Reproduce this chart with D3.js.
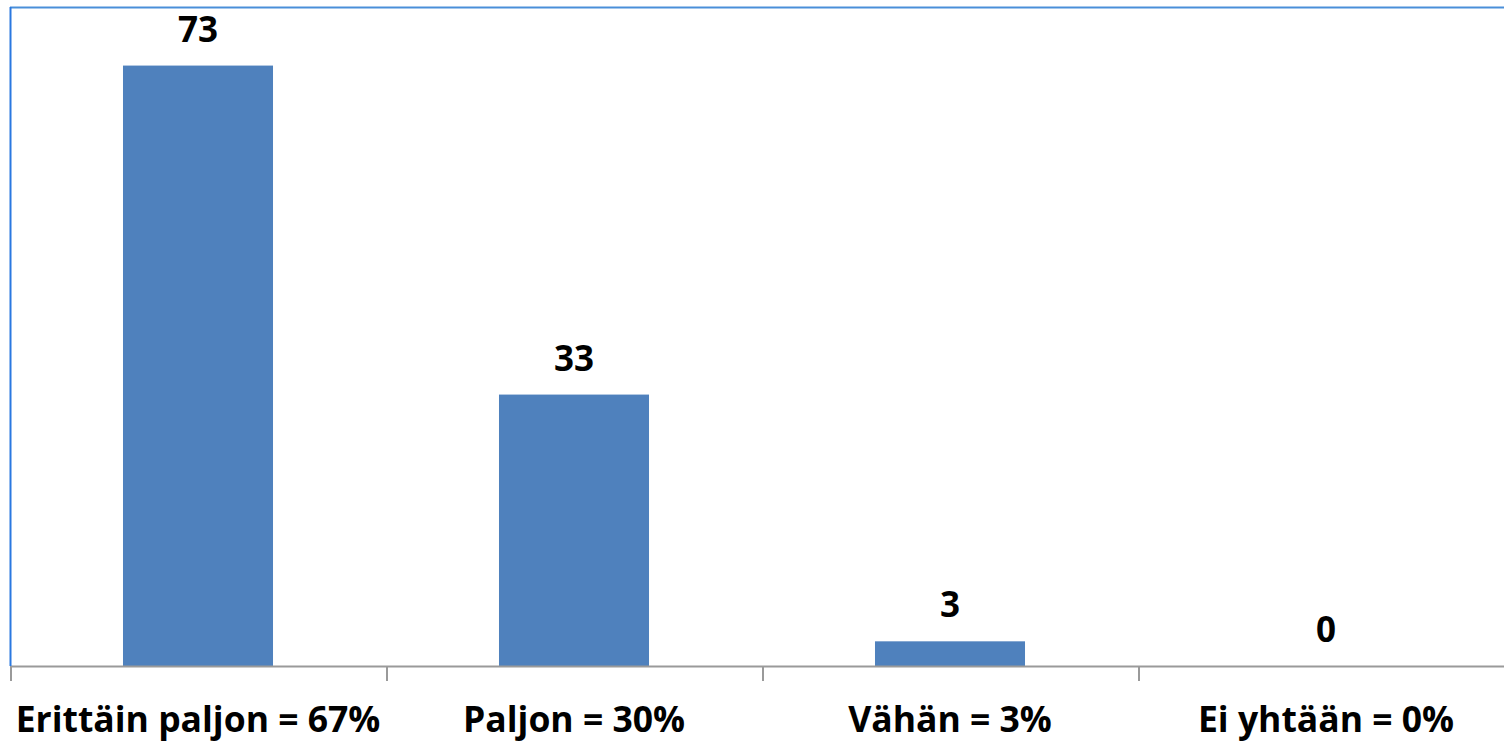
<!DOCTYPE html>
<html>
<head>
<meta charset="utf-8">
<script src="https://cdn.jsdelivr.net/npm/d3@7"></script>
<style>
  html, body { margin: 0; padding: 0; background: #fff; }
  svg { display: block; }
  text { font-family: "Open Sans", Lato, sans-serif; font-weight: bold; fill: #000; }
</style>
</head>
<body>
<svg id="chart"></svg>
<script>
// categories and values
const categories = ["Erittäin paljon = 67%", "Paljon = 30%", "Vähän = 3%", "Ei yhtään = 0%"];
const values = [73, 33, 3, 0];
const yDomain = [0, 80];

const width = 1504, height = 742;
const margin = {top: 8, right: -10, bottom: 76, left: 10};
const innerW = width - margin.left - margin.right;
const innerH = height - margin.top - margin.bottom;

const svg = d3.select("#chart")
  .attr("width", width)
  .attr("height", height);

const g = svg.append("g")
  .attr("transform", "translate(" + margin.left + "," + margin.top + ")");

// scales
const x = d3.scaleBand()
  .domain(categories)
  .range([0, innerW])
  .paddingInner(0.601)
  .paddingOuter(0.3005);

const y = d3.scaleLinear()
  .domain(yDomain)
  .range([innerH, 0]);

// bars
g.selectAll("rect.bar")
  .data(values)
  .enter().append("rect")
  .attr("class", "bar")
  .attr("x", (d, i) => x(categories[i]))
  .attr("y", d => y(d))
  .attr("width", x.bandwidth())
  .attr("height", d => innerH - y(d))
  .attr("fill", "#4f81bd");

// value labels
g.selectAll("text.val")
  .data(values)
  .enter().append("text")
  .attr("class", "val")
  .attr("x", (d, i) => x(categories[i]) + x.bandwidth() / 2)
  .attr("y", d => y(d) - 24)
  .attr("text-anchor", "middle")
  .style("font-size", "35px")
  .text(d => d);

// x axis: baseline, boundary ticks, labels
const step = x.step();
const bounds = categories.map((c, i) => x(c) - x.paddingOuter() * step);

g.append("line")
  .attr("x1", 0).attr("x2", innerW)
  .attr("y1", innerH + 0.5).attr("y2", innerH + 0.5)
  .attr("stroke", "#9a9a9a").attr("stroke-width", 2);

g.selectAll("line.tick")
  .data(bounds)
  .enter().append("line")
  .attr("class", "tick")
  .attr("x1", d => d + 1).attr("x2", d => d + 1)
  .attr("y1", innerH).attr("y2", innerH + 15)
  .attr("stroke", "#9a9a9a").attr("stroke-width", 2);

g.selectAll("text.cat")
  .data(categories)
  .enter().append("text")
  .attr("class", "cat")
  .attr("x", d => x(d) + x.bandwidth() / 2)
  .attr("y", innerH + 66)
  .attr("text-anchor", "middle")
  .style("font-size", "35.5px")
  .text(d => d);

// blue frame on top and left
svg.append("line")
  .attr("x1", 10).attr("x2", width)
  .attr("y1", 7.5).attr("y2", 7.5)
  .attr("stroke", "#4a8fd9").attr("stroke-width", 2);
svg.append("line")
  .attr("x1", 10.5).attr("x2", 10.5)
  .attr("y1", 7).attr("y2", margin.top + innerH)
  .attr("stroke", "#2a78e0").attr("stroke-width", 2);
</script>
</body>
</html>
